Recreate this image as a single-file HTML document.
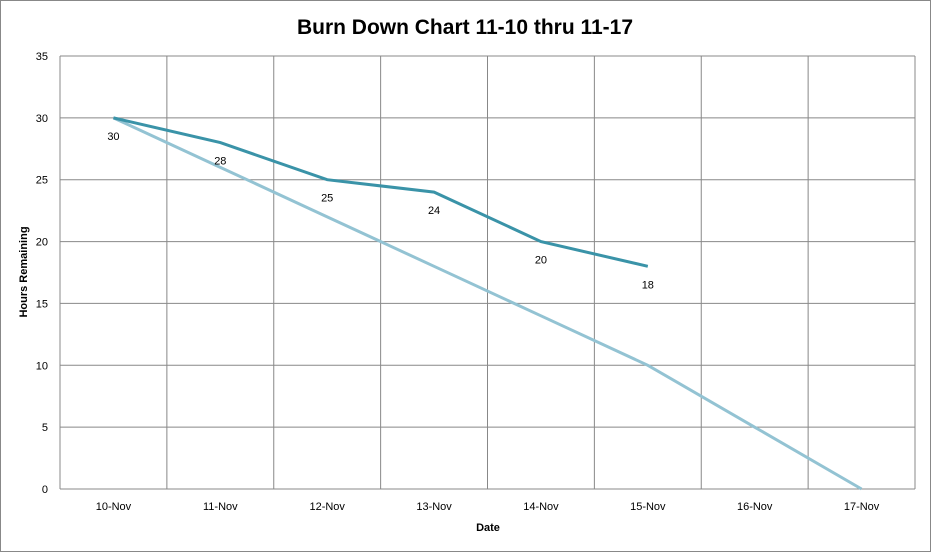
<!DOCTYPE html>
<html><head><meta charset="utf-8"><style>
body{margin:0;background:#fff;}
svg{display:block;font-family:"Liberation Sans",Calibri,sans-serif;}
</style></head><body>
<svg id="chart" width="931" height="552">
<rect x="0.5" y="0.5" width="930" height="551" fill="#fff" stroke="#888"/>
<text x="465" y="34" text-anchor="middle" font-size="21" font-weight="bold" fill="#000">Burn Down Chart 11-10 thru 11-17</text>
<g id="grid"></g><g id="axes"></g><g id="series"></g>
<text transform="translate(27,272) rotate(-90)" text-anchor="middle" font-size="11" font-weight="bold">Hours Remaining</text>
<text x="488" y="531" text-anchor="middle" font-size="11" font-weight="bold">Date</text>
</svg>
<script>
const categories=["10-Nov","11-Nov","12-Nov","13-Nov","14-Nov","15-Nov","16-Nov","17-Nov"];
const actual=[30,28,25,24,20,18];
const ideal=[30,26,22,18,14,10,5,0];
const yTicks=[0,5,10,15,20,25,30,35];
const L=60,R=915,T=56,B=489,ymax=35;
const cw=(R-L)/categories.length;
const xs=i=>L+cw*(i+0.5);
const ys=v=>B-(v/ymax)*(B-T);
const NS="http://www.w3.org/2000/svg";
function mk(t,a,p){const e=document.createElementNS(NS,t);for(const k in a)e.setAttribute(k,a[k]);p.appendChild(e);return e;}
const g=document.getElementById('grid'),ax=document.getElementById('axes'),s=document.getElementById('series');
yTicks.forEach(v=>{
 const l=mk('line',{x1:L,x2:R,y1:ys(v),y2:ys(v),stroke:'#888','stroke-width':1},g);
 
 
 const t=mk('text',{x:L-12,y:ys(v)+4,'text-anchor':'end','font-size':11},ax);t.textContent=v;
 
 
});
for(let i=0;i<=categories.length;i++){
 const l=mk('line',{x1:L+cw*i,x2:L+cw*i,y1:T,y2:B,stroke:'#888','stroke-width':1},g);
 
 
}
categories.forEach((c,i)=>{
 const t=mk('text',{x:xs(i),y:510,'text-anchor':'middle','font-size':11},ax);t.textContent=c;
 
 
});
const ip=mk('polyline',{points:ideal.map((v,i)=>xs(i)+','+ys(v)).join(' '),fill:'none',stroke:'#93c3d3','stroke-width':3},s);


const ap=mk('polyline',{points:actual.map((v,i)=>xs(i)+','+ys(v)).join(' '),fill:'none',stroke:'#3a93a8','stroke-width':3},s);


actual.forEach((v,i)=>{
 const t=mk('text',{x:xs(i),y:ys(v)+22,'text-anchor':'middle','font-size':11},s);t.textContent=v;
 
 
});
</script>
</body></html>
